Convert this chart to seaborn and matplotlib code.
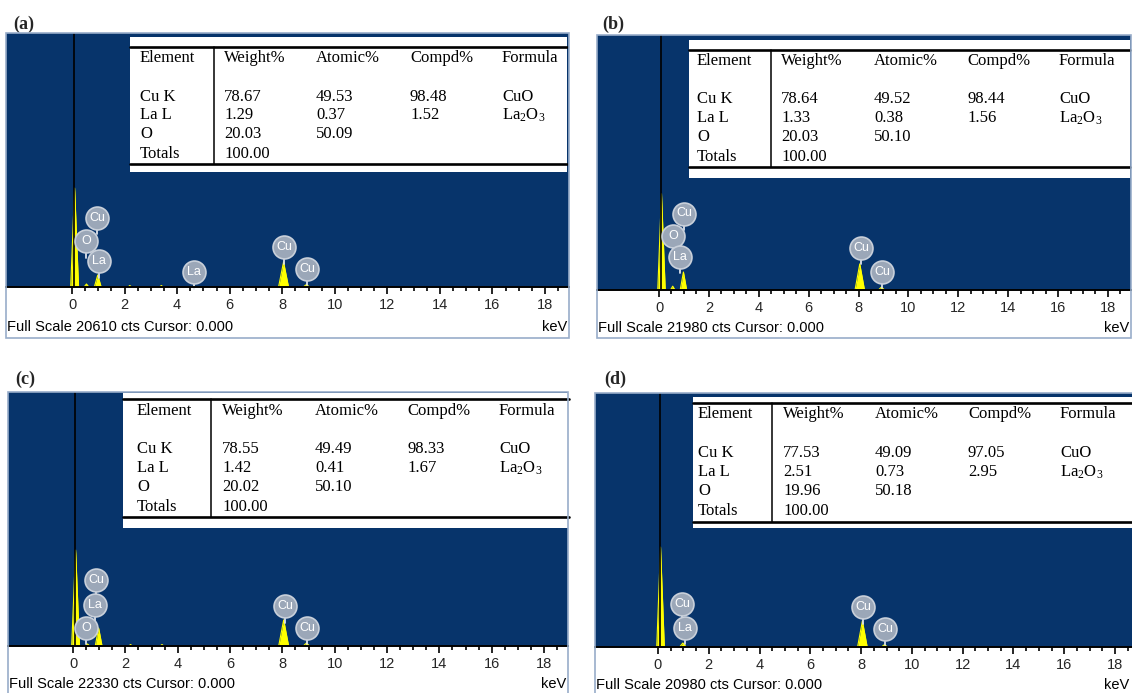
import matplotlib
matplotlib.use("Agg")
import matplotlib.pyplot as plt
import matplotlib.transforms as mtransforms
from matplotlib.patches import Rectangle
from matplotlib.lines import Line2D
import pandas as pd
import seaborn as sns

# ---------------------------------------------------------------- data
panel_tags = ["(a)", "(b)", "(c)", "(d)"]
full_scale_cts = [20610, 21980, 22330, 20980]

# peak energies (keV): zero strobe, O Ka, Cu L / La M, two weak lines, La La, Cu Ka, Cu Kb
peak_kev = [0.10, 0.55, 0.98, 2.20, 3.40, 4.65, 8.05, 8.92]
peak_cts_a = [8030, 245, 975, 120, 120, 80, 2030, 200]
peak_cts_b = [8300, 330, 1550, 0, 0, 0, 2250, 260]
peak_cts_c = [8440, 180, 1580, 130, 130, 0, 2290, 260]
peak_cts_d = [8260, 0, 330, 0, 0, 0, 2150, 200]

table_header = ["Element", "Weight%", "Atomic%", "Compd%", "Formula"]
table_elements = ["Cu K", "La L", "O", "Totals"]
formulas = ["CuO", r"La$_{\mathregular{2}}$O$_{\mathregular{3}}$"]

weight_a = [78.67, 1.29, 20.03, 100.00]
atomic_a = [49.53, 0.37, 50.09]
compd_a = [98.48, 1.52]

weight_b = [78.64, 1.33, 20.03, 100.00]
atomic_b = [49.52, 0.38, 50.10]
compd_b = [98.44, 1.56]

weight_c = [78.55, 1.42, 20.02, 100.00]
atomic_c = [49.49, 0.41, 50.10]
compd_c = [98.33, 1.67]

weight_d = [77.53, 2.51, 19.96, 100.00]
atomic_d = [49.09, 0.73, 50.18]
compd_d = [97.05, 2.95]

# element markers: name, line energy (keV)
marker_names_a = ["Cu", "O", "La", "La", "Cu", "Cu"]
marker_kev_a = [0.95, 0.53, 1.03, 4.64, 8.07, 8.94]
marker_names_b = ["Cu", "O", "La", "Cu", "Cu"]
marker_kev_b = [1.00, 0.56, 0.84, 8.10, 8.94]
marker_names_c = ["Cu", "La", "O", "Cu", "Cu"]
marker_kev_c = [0.88, 0.84, 0.50, 8.10, 8.95]
marker_names_d = ["Cu", "La", "Cu", "Cu"]
marker_kev_d = [0.95, 1.06, 8.07, 8.94]

# ---------------------------------------------------------------- styling / layout
W, H = 1132, 693
XMIN, XMAX = -2.5, 18.93
NAVY = "#07346b"
YELLOW = "#ffff00"
FRAME = "#98adc9"
BADGE_FACE = "#9ba7b8"
BADGE_EDGE = "#c9d0da"
PEAK_HALF_WIDTH = [0.15, 0.09, 0.13, 0.07, 0.07, 0.06, 0.19, 0.12]

# badge heights above the baseline (axes fraction)
marker_rise = [
    [0.272, 0.181, 0.102, 0.059, 0.157, 0.071],
    [0.300, 0.210, 0.130, 0.165, 0.071],
    [0.260, 0.160, 0.071, 0.157, 0.071],
    [0.170, 0.075, 0.157, 0.071],
]

layouts = [
    dict(p0=72, s=26.28, top=33, base=287, fbot=338, tag=(13, 24),
         box=(130, 37, 567, 172), rules=(47, 164), vline=214,
         cols=[140, 224, 316, 410, 502], rows=[58, 97, 115, 134, 154], foot=327),
    dict(p0=659, s=24.94, top=35, base=290, fbot=338, tag=(602, 24),
         box=(689, 40, 1130, 178), rules=(50, 167), vline=771,
         cols=[697, 781, 874, 967, 1059], rows=[61, 99, 118, 137, 157], foot=328),
    dict(p0=73, s=26.17, top=392, base=646, fbot=700, tag=(15, 379),
         box=(123, 393, 569, 528), rules=(399, 517), vline=211,
         cols=[137, 222, 315, 407, 499], rows=[411, 449, 468, 487, 507], foot=684),
    dict(p0=658, s=25.39, top=393, base=647, fbot=700, tag=(604, 379),
         box=(693, 397, 1140, 528), rules=(403, 522), vline=772,
         cols=[698, 783, 875, 968, 1060], rows=[414, 453, 472, 491, 511], foot=685),
]

sns.set_theme(style="white")
plt.rcParams["font.family"] = ["Liberation Sans", "DejaVu Sans"]
plt.rcParams["mathtext.fontset"] = "custom"
plt.rcParams["mathtext.rm"] = "Liberation Serif"
plt.rcParams["mathtext.it"] = "Liberation Serif:italic"
SERIF = ["Liberation Serif", "DejaVu Serif"]


def fx(px):
    return px / W


def fy(py):
    return 1 - py / H


def spectrum_frame(kev, cts):
    """Triangular peak outlines; each peak gets its own id so lines do not join."""
    xs, ys, ids = [], [], []
    for n, (c, h, w) in enumerate(zip(kev, cts, PEAK_HALF_WIDTH)):
        if h <= 0:
            continue
        xs += [c - w, c, c + w]
        ys += [0, h, 0]
        ids += [n, n, n]
    return pd.DataFrame({"keV": xs, "counts": ys, "peak": ids})


def draw_table(fig, lay, weight, atomic, compd):
    x0, y0, x1, y1 = lay["box"]
    fig.add_artist(Rectangle((fx(x0), fy(y1)), fx(x1) - fx(x0), fy(y0) - fy(y1),
                             transform=fig.transFigure, facecolor="white",
                             edgecolor="none", zorder=5))
    for ry in lay["rules"]:
        fig.add_artist(Line2D([fx(x0), fx(x1)], [fy(ry), fy(ry)], color="black",
                              lw=1.9, transform=fig.transFigure, zorder=6))
    vx = lay["vline"]
    fig.add_artist(Line2D([fx(vx), fx(vx)], [fy(lay["rules"][0]), fy(lay["rules"][1])],
                          color="black", lw=1.1, transform=fig.transFigure, zorder=6))
    cols, rows = lay["cols"], lay["rows"]
    kw = dict(family=SERIF, fontsize=12, color="black", va="center", ha="left", zorder=7)
    for cx, head in zip(cols, table_header):
        fig.text(fx(cx), fy(rows[0]), head, **kw)
    for i, name in enumerate(table_elements):
        fig.text(fx(cols[0]), fy(rows[i + 1]), name, **kw)
    for i, v in enumerate(weight):
        fig.text(fx(cols[1]), fy(rows[i + 1]), f"{v:.2f}", **kw)
    for i, v in enumerate(atomic):
        fig.text(fx(cols[2]), fy(rows[i + 1]), f"{v:.2f}", **kw)
    for i, v in enumerate(compd):
        fig.text(fx(cols[3]), fy(rows[i + 1]), f"{v:.2f}", **kw)
    for i, f in enumerate(formulas):
        fig.text(fx(cols[4]), fy(rows[i + 1]), f, **kw)


fig = plt.figure(figsize=(W / 100, H / 100), dpi=100)
fig.patch.set_facecolor("white")

peaks = [peak_cts_a, peak_cts_b, peak_cts_c, peak_cts_d]
tables = [(weight_a, atomic_a, compd_a), (weight_b, atomic_b, compd_b),
          (weight_c, atomic_c, compd_c), (weight_d, atomic_d, compd_d)]
markers = [(marker_names_a, marker_kev_a), (marker_names_b, marker_kev_b),
           (marker_names_c, marker_kev_c), (marker_names_d, marker_kev_d)]

for k, lay in enumerate(layouts):
    left = lay["p0"] + XMIN * lay["s"]
    right = lay["p0"] + XMAX * lay["s"]
    top, base = lay["top"], lay["base"]
    ax = fig.add_axes([fx(left), fy(base), fx(right) - fx(left), fy(top) - fy(base)])
    ax.set_facecolor(NAVY)
    ax.set_xlim(XMIN, XMAX)
    ax.set_ylim(0, full_scale_cts[k])

    df = spectrum_frame(peak_kev, peaks[k])
    for _, g in df.groupby("peak"):
        ax.fill_between(g["keV"], g["counts"], 0, color=YELLOW, lw=0, zorder=2)
    sns.lineplot(data=df, x="keV", y="counts", units="peak", sort=False,
                 estimator=None, color=YELLOW, lw=0.8, ax=ax, zorder=3, legend=False)
    ax.axvline(0.08, color="black", lw=1.2, zorder=3)

    ax.set_xlabel("")
    ax.set_ylabel("")
    ax.set_yticks([])
    ax.set_xticks(range(0, 19, 2))
    ax.set_xticks([m * 0.5 for m in range(1, 38) if m % 4 != 0], minor=True)
    ax.tick_params(axis="x", which="major", direction="out", length=5, width=1.2,
                   color="black", labelsize=10.5, pad=3, bottom=True)
    ax.tick_params(axis="x", which="minor", direction="out", length=3, width=1.2,
                   color="black", bottom=True)
    for sp in ["top", "left", "right"]:
        ax.spines[sp].set_visible(False)
    ax.spines["bottom"].set_color("black")
    ax.spines["bottom"].set_linewidth(1.4)
    ax.spines["bottom"].set_zorder(4)

    # element markers
    hpx = base - top
    trans = mtransforms.blended_transform_factory(ax.transData, ax.transAxes)
    names, kevs = markers[k]
    for name, kx, yf in zip(names, kevs, marker_rise[k]):
        r = 11.5 / hpx
        ax.plot([kx, kx], [yf - r, yf - r - 5 / hpx], color="#dde3ec", lw=1.3,
                transform=trans, zorder=4, clip_on=False)
        ax.plot([kx], [yf], marker="o", ms=16.5, mfc=BADGE_FACE, mec=BADGE_EDGE,
                mew=1.2, transform=trans, zorder=5, clip_on=False)
        ax.text(kx, yf, name, color="white", fontsize=9, ha="center", va="center",
                transform=trans, zorder=6)

    # panel frame, footer and tag
    fig.add_artist(Rectangle((fx(left), fy(lay["fbot"])), fx(right) - fx(left),
                             fy(top) - fy(lay["fbot"]), transform=fig.transFigure,
                             facecolor="none", edgecolor=FRAME, lw=1.2, zorder=8))
    fig.text(fx(left + 1), fy(lay["foot"]),
             f"Full Scale {full_scale_cts[k]} cts Cursor: 0.000",
             fontsize=10.5, va="center", ha="left", color="black")
    fig.text(fx(min(right - 2, W - 3)), fy(lay["foot"]), "keV", fontsize=10.5,
             va="center", ha="right", color="black")
    tx, ty = lay["tag"]
    fig.text(fx(tx), fy(ty), panel_tags[k], family=SERIF, fontsize=13,
             fontweight="bold", va="center", ha="left")

    draw_table(fig, lay, *tables[k])

fig.savefig("out.png", dpi=100)
